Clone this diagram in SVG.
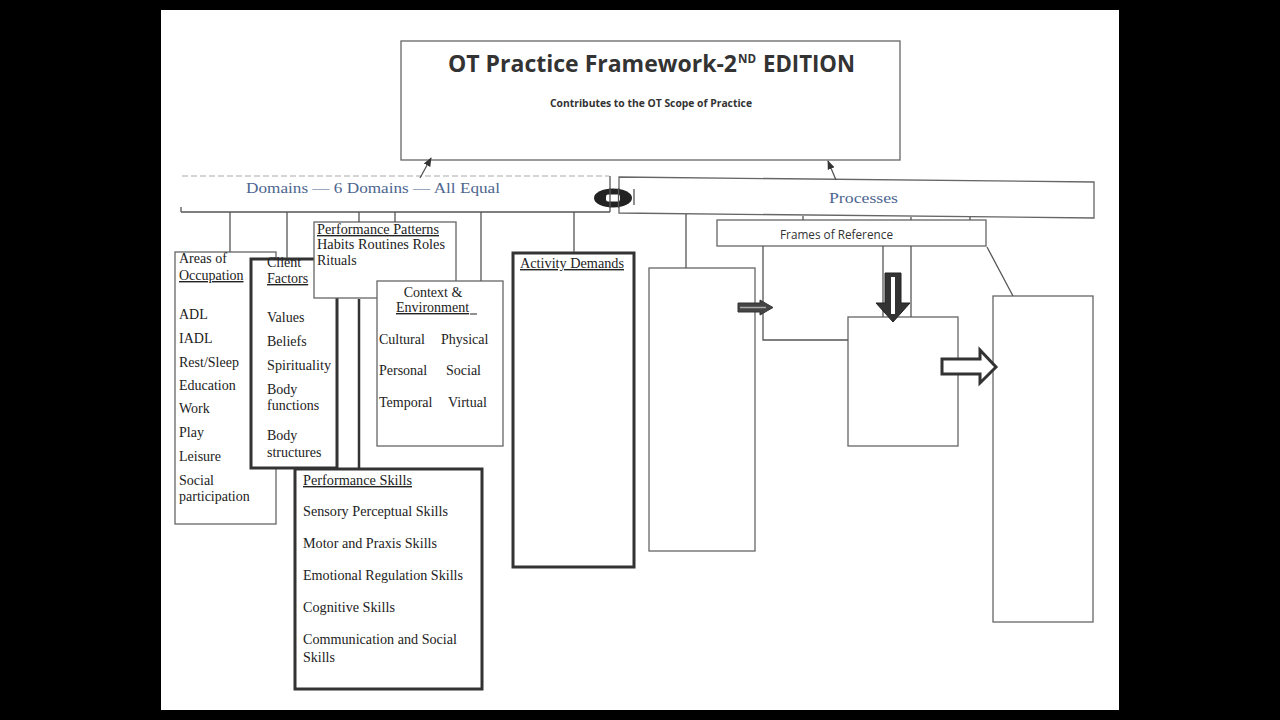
<svg xmlns="http://www.w3.org/2000/svg" width="1280" height="720" viewBox="0 0 1280 720">
<defs>
<marker id="ah" viewBox="0 0 10 10" refX="9" refY="5" markerWidth="7" markerHeight="7" orient="auto">
<path d="M0,1 L10,5 L0,9 Z" fill="#333"/>
</marker>
<style>
.thin{fill:#fff;stroke:#666;stroke-width:1.3}
.thick{fill:#fff;stroke:#333;stroke-width:3}
.ln{stroke:#555;stroke-width:1.3;fill:none}
.lnk{stroke:#333;stroke-width:2.5;fill:none}
.s{font-family:"Liberation Serif","Times New Roman",serif;font-size:14px;fill:#222}
.u{text-decoration:underline}
.blue{font-family:"Liberation Serif","Times New Roman",serif;font-size:15px;fill:#4d6690}
.sans{font-family:"Open Sans","Noto Sans",sans-serif;font-weight:bold;fill:#333}
</style>
</defs>
<rect x="0" y="0" width="1280" height="720" fill="#000"/>
<rect x="161" y="10" width="958" height="700" fill="#fff"/>

<g id="title">
<rect x="401" y="41" width="499" height="119" class="thin"/>
<text x="448" y="72" class="sans" font-size="23" textLength="289" lengthAdjust="spacingAndGlyphs">OT Practice Framework-2</text>
<text x="738" y="63" class="sans" font-size="13" textLength="18" lengthAdjust="spacingAndGlyphs">ND</text>
<text x="763" y="72" class="sans" font-size="23" textLength="92" lengthAdjust="spacingAndGlyphs">EDITION</text>
<text x="651" y="107" class="sans" font-size="10" text-anchor="middle" textLength="202" lengthAdjust="spacingAndGlyphs">Contributes to the OT Scope of Practice</text>
</g>

<g id="domains">
<line x1="182" y1="176" x2="609" y2="176" stroke="#aaa" stroke-width="1.2" stroke-dasharray="6,3"/>
<line class="ln" x1="181" y1="212" x2="610" y2="212"/>
<line class="ln" x1="181" y1="207" x2="181" y2="212"/>
<line class="ln" x1="610" y1="176" x2="610" y2="212"/>
<text x="246" y="193" class="blue" textLength="254" lengthAdjust="spacingAndGlyphs">Domains — 6 Domains — All Equal</text>
</g>

<g id="processes">
<polygon points="619,177 1094,182 1094,218 619,213" class="thin"/>
<text x="829" y="203" class="blue" textLength="69" lengthAdjust="spacingAndGlyphs">Processes</text>
</g>

<g id="link-oval">
<ellipse cx="613" cy="198" rx="19" ry="9.5" fill="#222"/>
<rect x="606" y="194.5" width="14" height="7" rx="2" fill="#fff"/>
<line class="ln" x1="610" y1="188" x2="610" y2="208"/>
<line class="ln" x1="618.5" y1="188" x2="618.5" y2="208"/>
<line class="ln" x1="634" y1="189" x2="634" y2="205"/>
</g>

<g id="areas">
<rect x="175" y="252" width="101" height="272" class="thin"/>
<text class="s" x="179" y="263">Areas of</text>
<text class="s u" x="179" y="280">Occupation</text>
<text class="s" x="179" y="319">ADL</text>
<text class="s" x="179" y="343">IADL</text>
<text class="s" x="179" y="367">Rest/Sleep</text>
<text class="s" x="179" y="390">Education</text>
<text class="s" x="179" y="413">Work</text>
<text class="s" x="179" y="437">Play</text>
<text class="s" x="179" y="461">Leisure</text>
<text class="s" x="179" y="485">Social</text>
<text class="s" x="179" y="501">participation</text>
</g>

<g id="client-factors">
<rect x="251" y="259" width="86" height="209" class="thick"/>
<text class="s" x="267" y="267">Client</text>
<text class="s u" x="267" y="283">Factors</text>
<text class="s" x="267" y="322">Values</text>
<text class="s" x="267" y="346">Beliefs</text>
<text class="s" x="267" y="370" textLength="64" lengthAdjust="spacingAndGlyphs">Spirituality</text>
<text class="s" x="267" y="394">Body</text>
<text class="s" x="267" y="410">functions</text>
<text class="s" x="267" y="440">Body</text>
<text class="s" x="267" y="457">structures</text>
</g>

<g id="performance-patterns">
<rect x="314" y="222" width="142" height="76" class="thin"/>
<text class="s u" x="317" y="234" textLength="122" lengthAdjust="spacingAndGlyphs">Performance Patterns</text>
<text class="s" x="317" y="249" textLength="128" lengthAdjust="spacingAndGlyphs">Habits Routines Roles</text>
<text class="s" x="317" y="265">Rituals</text>
</g>

<g id="context">
<rect x="377" y="281" width="126" height="165" class="thin"/>
<text class="s" x="433" y="297" text-anchor="middle">Context &amp;</text>
<text class="s u" x="396" y="312">Environment</text>
<line x1="470" y1="314" x2="477" y2="314" stroke="#222" stroke-width="1"/>
<text class="s" x="379" y="344">Cultural</text>
<text class="s" x="441" y="344">Physical</text>
<text class="s" x="379" y="375">Personal</text>
<text class="s" x="446" y="375">Social</text>
<text class="s" x="379" y="407">Temporal</text>
<text class="s" x="448" y="407">Virtual</text>
</g>

<g id="performance-skills">
<rect x="295" y="469" width="187" height="220" class="thick"/>
<text class="s u" x="303" y="485" textLength="109" lengthAdjust="spacingAndGlyphs">Performance Skills</text>
<text class="s" x="303" y="516" textLength="145" lengthAdjust="spacingAndGlyphs">Sensory Perceptual Skills</text>
<text class="s" x="303" y="548" textLength="134" lengthAdjust="spacingAndGlyphs">Motor and Praxis Skills</text>
<text class="s" x="303" y="580" textLength="160" lengthAdjust="spacingAndGlyphs">Emotional Regulation Skills</text>
<text class="s" x="303" y="612" textLength="92" lengthAdjust="spacingAndGlyphs">Cognitive Skills</text>
<text class="s" x="303" y="644" textLength="154" lengthAdjust="spacingAndGlyphs">Communication and Social</text>
<text class="s" x="303" y="662">Skills</text>
</g>

<g id="activity-demands">
<rect x="513" y="253" width="121" height="314" class="thick"/>
<text class="s u" x="520" y="268" textLength="104" lengthAdjust="spacingAndGlyphs">Activity Demands</text>
</g>

<g id="frames-of-reference">
<rect x="717" y="220" width="269" height="26" class="thin"/>
<text x="780" y="239" font-family="'Open Sans','Noto Sans',sans-serif" font-size="12" fill="#333" textLength="113" lengthAdjust="spacingAndGlyphs">Frames of Reference</text>
</g>

<g id="process-box-1">
<rect x="649" y="268" width="106" height="283" class="thin"/>
</g>
<g id="process-box-2">
<rect x="848" y="317" width="110" height="129" class="thin"/>
</g>
<g id="process-box-3">
<rect x="993" y="296" width="100" height="326" class="thin"/>
</g>

<g id="connectors">
<line class="ln" x1="420" y1="178" x2="431" y2="158" marker-end="url(#ah)"/>
<line class="ln" x1="836" y1="180" x2="828" y2="161" marker-end="url(#ah)"/>
<line class="ln" x1="230" y1="212" x2="230" y2="252"/>
<line class="ln" x1="287" y1="212" x2="287" y2="258"/>
<line class="ln" x1="359" y1="212" x2="359" y2="222"/>
<line class="ln" x1="395" y1="212" x2="395" y2="222"/>
<line class="ln" x1="481" y1="212" x2="481" y2="281"/>
<line class="ln" x1="574" y1="212" x2="574" y2="252"/>
<line class="lnk" x1="359" y1="299" x2="359" y2="468"/>
<line class="ln" x1="686" y1="214" x2="686" y2="268"/>
<line class="ln" x1="803" y1="216" x2="803" y2="220"/>
<line class="ln" x1="911" y1="217" x2="911" y2="220"/>
<line class="ln" x1="970" y1="217" x2="970" y2="220"/>
<line class="ln" x1="987" y1="247" x2="1013" y2="296"/>
<polyline class="ln" points="763,246 763,340 848,340"/>
<line class="ln" x1="883" y1="246" x2="883" y2="317"/>
<line class="ln" x1="911" y1="246" x2="911" y2="317"/>
<path d="M738,303 L760,303 L760,300 L773,307.5 L760,315 L760,312 L738,312 Z" fill="#444" stroke="#333" stroke-width="1"/>
<line x1="740" y1="307.5" x2="766" y2="307.5" stroke="#aaa" stroke-width="1.5"/>
<path d="M885,273 L901,273 L901,303 L910,303 L893,322 L876,303 L885,303 Z" fill="#333" stroke="#222" stroke-width="1"/>
<line x1="893" y1="277" x2="893" y2="314" stroke="#fff" stroke-width="4"/>
<path d="M942,359 L980,359 L980,350 L996,367 L980,383 L980,374 L942,374 Z" fill="#fff" stroke="#333" stroke-width="3"/>
</g>
</svg>
